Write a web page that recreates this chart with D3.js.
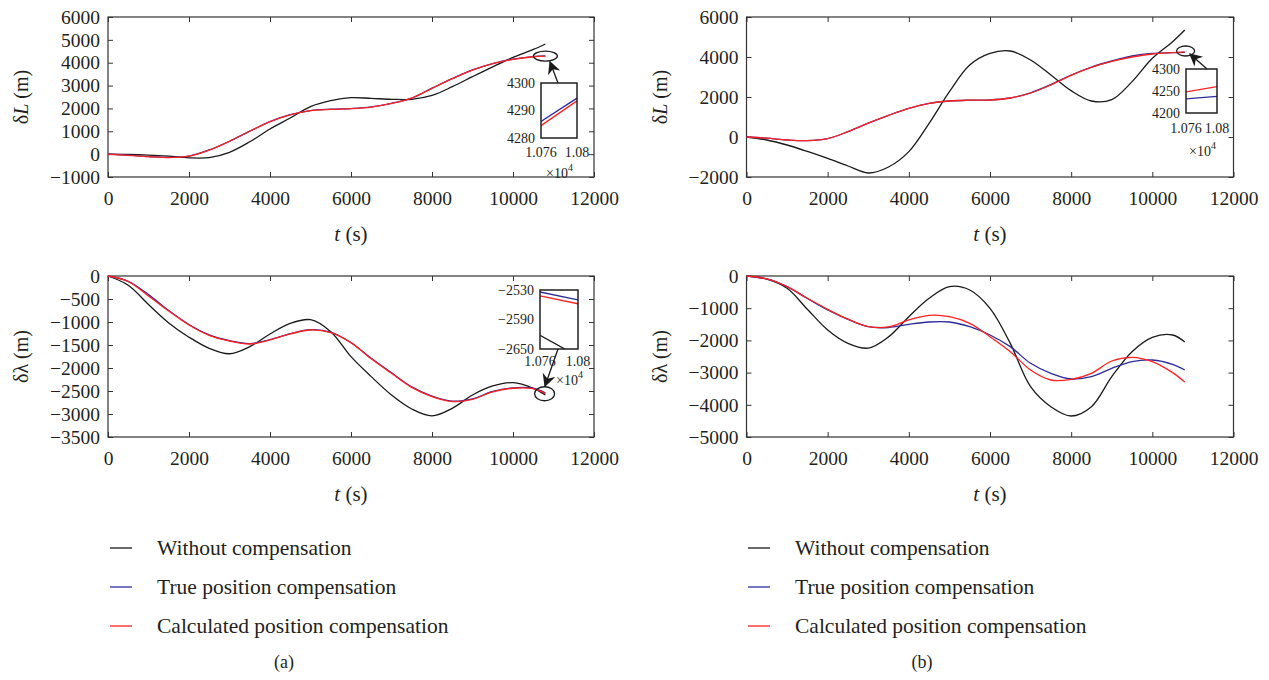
<!DOCTYPE html>
<html>
<head>
<meta charset="utf-8">
<script src="https://cdn.jsdelivr.net/npm/d3@7"></script>
<style>
  body { margin: 0; background: #fff; }
  text { font-family: "Liberation Serif", "DejaVu Serif", serif; fill: #231f20; }
</style>
</head>
<body>
<svg id="chart" width="1269" height="680"></svg>
<script>
// time grid (s), shared by all series
const times = [0, 500, 1000, 1500, 2000, 2500, 3000, 3500, 4000, 4500, 5000, 5500,
  6000, 6500, 7000, 7500, 8000, 8500, 9000, 9500, 10000, 10500, 10800];

// (a) delta L
const aL_without = [0, -10, -40, -90, -160, -150, 80, 540, 1100, 1580, 2080, 2340,
  2470, 2440, 2400, 2400, 2570, 2950, 3390, 3820, 4230, 4580, 4820];
const aL_true = [0, -45, -105, -145, -85, 185, 565, 1005, 1425, 1725, 1905, 1965,
  1995, 2065, 2225, 2455, 2885, 3305, 3685, 3965, 4155, 4265, 4295];
const aL_calc = [0, -50, -110, -150, -90, 180, 560, 1000, 1420, 1720, 1900, 1960,
  1990, 2060, 2220, 2450, 2880, 3300, 3680, 3960, 4150, 4260, 4290];

// (b) delta L
const bL_without = [0, -150, -400, -720, -1070, -1450, -1800, -1500, -733, 683, 2267, 3600,
  4183, 4300, 3850, 3100, 2317, 1800, 1867, 2767, 3933, 4767, 5350];
const bL_true = [0, -60, -150, -183, -80, 270, 690, 1080, 1430, 1680, 1800, 1840,
  1850, 1950, 2210, 2620, 3100, 3500, 3800, 4050, 4180, 4215, 4235];
const bL_calc = [0, -60, -150, -183, -80, 270, 690, 1080, 1430, 1680, 1800, 1840,
  1850, 1950, 2200, 2600, 3080, 3480, 3780, 4000, 4150, 4220, 4255];

// (a) delta lambda
const al_without = [0, -200, -620, -1020, -1330, -1572, -1690, -1536, -1260, -1030, -950, -1210,
  -1754, -2188, -2587, -2891, -3040, -2877, -2587, -2391, -2320, -2442, -2587];
const al_true = [0, -115, -405, -750, -1055, -1280, -1405, -1470, -1385, -1255, -1165, -1220,
  -1450, -1790, -2105, -2410, -2610, -2720, -2670, -2510, -2430, -2440, -2545];
const al_calc = [0, -120, -435, -760, -1065, -1290, -1413, -1478, -1390, -1260, -1174, -1230,
  -1449, -1800, -2115, -2420, -2620, -2730, -2681, -2520, -2440, -2450, -2555];

// (b) delta lambda
const bl_without = [0, -100, -383, -1035, -1677, -2091, -2240, -1890, -1263, -694, -331, -435,
  -1004, -2091, -3437, -4058, -4348, -4058, -3126, -2350, -1905, -1832, -2050];
const bl_true = [0, -90, -331, -700, -1056, -1350, -1574, -1600, -1501, -1429, -1429, -1574,
  -1832, -2194, -2712, -3023, -3199, -3126, -2867, -2660, -2609, -2743, -2919];
const bl_calc = [0, -90, -331, -690, -1035, -1340, -1574, -1580, -1366, -1222, -1263, -1470,
  -1884, -2350, -2919, -3230, -3209, -3023, -2640, -2526, -2660, -3002, -3292];

// zoomed insets (x in 10^4 s)
const insetT = [1.076, 1.08];
const aL_inset = { true: [4286, 4294.5], calc: [4284.5, 4293.5] };
const bL_inset = { true: [4232, 4238], calc: [4248, 4260] };
const al_inset = { without: [-2622, -2665], true: [-2534, -2550], calc: [-2542, -2558] };

const seriesNames = ["Without compensation", "True position compensation", "Calculated position compensation"];
const colors = { without: "#1a1a1a", true: "#2e2a9c", calc: "#ff2020" };

const svg = d3.select("#chart");

const panels = [
  { x0: 108, x1: 594, y0: 17, y1: 177, ydom: [-1000, 6000], ystep: 1000, ylab: "L", lab: "δ",
    data: { without: aL_without, true: aL_true, calc: aL_calc },
    inset: { box: [541, 577, 83, 138], ydom: [4280, 4300], yticks: [4300, 4290, 4280], vals: aL_inset,
      ell: [10800, 4290, 12, 5], arrow: [[558, 83], [550, 62]], xlabY: 157, expY: 178, expX: 546 } },
  { x0: 746.5, x1: 1233.5, y0: 17, y1: 177, ydom: [-2000, 6000], ystep: 2000, ylab: "L", lab: "δ",
    data: { without: bL_without, true: bL_true, calc: bL_calc },
    inset: { box: [1186, 1217, 69, 113], ydom: [4200, 4300], yticks: [4300, 4250, 4200], vals: bL_inset,
      ell: [10820, 4300, 9, 5], arrow: [[1207, 69], [1190, 54]], xlabY: 133, expY: 156, expX: 1189 } },
  { x0: 108, x1: 594, y0: 276, y1: 437, ydom: [-3500, 0], ystep: 500, ylab: "λ", lab: "δ",
    data: { without: al_without, true: al_true, calc: al_calc },
    inset: { box: [540, 578, 290, 349], ydom: [-2650, -2530], yticks: [-2530, -2590, -2650], vals: al_inset,
      ell: [10780, -2560, 10, 7], arrow: [[558, 349], [545, 386]], xlabY: 366, expY: 385, expX: 556 } },
  { x0: 746.5, x1: 1233.5, y0: 276, y1: 437, ydom: [-5000, 0], ystep: 1000, ylab: "λ", lab: "δ",
    data: { without: bl_without, true: bl_true, calc: bl_calc } }
];

svg.append("defs").append("marker")
  .attr("id", "head").attr("viewBox", "0 0 10 10")
  .attr("refX", 9).attr("refY", 5)
  .attr("markerWidth", 16).attr("markerHeight", 13)
  .attr("markerUnits", "userSpaceOnUse")
  .attr("orient", "auto")
  .append("path").attr("d", "M0,0 L10,5 L0,10 L3,5 Z").attr("fill", "#1a1a1a");

const fmt = d3.format("d");

panels.forEach((p, pi) => {
  const x = d3.scaleLinear().domain([0, 12000]).range([p.x0, p.x1]);
  const y = d3.scaleLinear().domain(p.ydom).range([p.y1, p.y0]);
  const xt = d3.range(0, 12001, 2000);
  const yt = d3.range(p.ydom[0], p.ydom[1] + 1, p.ystep);
  const g = svg.append("g");

  const styleAxis = sel => {
    sel.select(".domain").remove();
    sel.selectAll("line").attr("stroke", "#333").attr("stroke-width", 1);
    sel.selectAll("text").style("font-family", "'Liberation Serif', serif")
      .style("font-size", "19.5px").attr("fill", "#231f20");
  };

  g.append("g").attr("transform", `translate(0,${p.y1})`)
    .call(d3.axisBottom(x).tickValues(xt).tickFormat(fmt).tickSizeInner(-5).tickSizeOuter(0).tickPadding(14))
    .call(styleAxis);
  g.append("g").attr("transform", `translate(0,${p.y0})`)
    .call(d3.axisTop(x).tickValues(xt).tickFormat("").tickSizeInner(-5).tickSizeOuter(0))
    .call(styleAxis);
  g.append("g").attr("transform", `translate(${p.x0},0)`)
    .call(d3.axisLeft(y).tickValues(yt).tickFormat(d3.format("d")).tickSizeInner(-5).tickSizeOuter(0).tickPadding(8))
    .call(styleAxis);
  g.append("g").attr("transform", `translate(${p.x1},0)`)
    .call(d3.axisRight(y).tickValues(yt).tickFormat("").tickSizeInner(-5).tickSizeOuter(0))
    .call(styleAxis);

  g.append("rect")
    .attr("x", p.x0).attr("y", p.y0)
    .attr("width", p.x1 - p.x0).attr("height", p.y1 - p.y0)
    .attr("fill", "none").attr("stroke", "#333").attr("stroke-width", 1.2);

  const line = d3.line()
    .x((d, i) => x(times[i]))
    .y(d => y(d))
    .curve(d3.curveCatmullRom.alpha(0.5));

  ["without", "true", "calc"].forEach(k => {
    g.append("path")
      .datum(p.data[k])
      .attr("d", line)
      .attr("fill", "none")
      .attr("stroke", colors[k])
      .attr("stroke-width", 1.3);
  });

  // axis titles
  const xc = (p.x0 + p.x1) / 2;
  const xl = g.append("text")
    .attr("x", xc).attr("y", p.y1 + 64)
    .attr("text-anchor", "middle").style("font-size", "21px");
  xl.append("tspan").attr("font-style", "italic").text("t");
  xl.append("tspan").text(" (s)");

  const yc = (p.y0 + p.y1) / 2;
  const yl = g.append("text")
    .attr("transform", `translate(${p.x0 - 80},${yc}) rotate(-90)`)
    .attr("text-anchor", "middle").style("font-size", "20px");
  yl.append("tspan").text(p.lab);
  yl.append("tspan").attr("font-style", p.ylab === "L" ? "italic" : "normal").text(p.ylab);
  yl.append("tspan").text(" (m)");

  // inset
  if (p.inset) {
    const s = p.inset;
    const [bx0, bx1, by0, by1] = s.box;
    const ix = d3.scaleLinear().domain([1.076, 1.08]).range([bx0, bx1]);
    const iy = d3.scaleLinear().domain(s.ydom).range([by1, by0]);
    const clipId = "clip" + pi;
    g.append("clipPath").attr("id", clipId).append("rect")
      .attr("x", bx0).attr("y", by0).attr("width", bx1 - bx0).attr("height", by1 - by0);
    g.append("rect").attr("x", bx0).attr("y", by0)
      .attr("width", bx1 - bx0).attr("height", by1 - by0)
      .attr("fill", "#fff").attr("stroke", "none");
    const il = d3.line().x((d, i) => ix(insetT[i])).y(d => iy(d));
    Object.keys(s.vals).forEach(k => {
      g.append("path").datum(s.vals[k]).attr("d", il)
        .attr("clip-path", `url(#${clipId})`)
        .attr("fill", "none").attr("stroke", colors[k]).attr("stroke-width", 1.3);
    });
    g.append("rect").attr("x", bx0).attr("y", by0)
      .attr("width", bx1 - bx0).attr("height", by1 - by0)
      .attr("fill", "none").attr("stroke", "#231f20").attr("stroke-width", 1.5);

    g.selectAll(null).data(s.yticks).enter().append("text")
      .attr("x", bx0 - 6).attr("y", d => iy(d)).attr("dy", "0.35em")
      .attr("text-anchor", "end").style("font-size", "14px")
      .text(d => d3.format("d")(d));
    g.selectAll(null).data(insetT).enter().append("text")
      .attr("x", d => ix(d)).attr("y", s.xlabY)
      .attr("text-anchor", "middle").style("font-size", "14px")
      .text(d => d === 1.08 ? "1.08" : "1.076");
    const ex = g.append("text").attr("x", s.expX).attr("y", s.expY).style("font-size", "14px");
    ex.append("tspan").text("×10");
    ex.append("tspan").attr("dy", -7).style("font-size", "10px").text("4");

    // ellipse marking the zoomed region
    g.append("ellipse")
      .attr("cx", x(s.ell[0])).attr("cy", y(s.ell[1]))
      .attr("rx", s.ell[2]).attr("ry", s.ell[3])
      .attr("fill", "none").attr("stroke", "#1a1a1a").attr("stroke-width", 1.3);
    g.append("line")
      .attr("x1", s.arrow[0][0]).attr("y1", s.arrow[0][1])
      .attr("x2", s.arrow[1][0]).attr("y2", s.arrow[1][1])
      .attr("stroke", "#1a1a1a").attr("stroke-width", 1.3)
      .attr("marker-end", "url(#head)");
  }
});

// legends
const legendRows = [548, 587, 626];
const legendKeys = ["without", "true", "calc"];
[{ lx: 110, tx: 157 }, { lx: 748, tx: 795 }].forEach(L => {
  const lg = svg.append("g");
  legendKeys.forEach((k, i) => {
    lg.append("line").attr("x1", L.lx).attr("x2", L.lx + 22)
      .attr("y1", legendRows[i]).attr("y2", legendRows[i])
      .attr("stroke", colors[k]).attr("stroke-width", 1.3);
    lg.append("text").attr("x", L.tx).attr("y", legendRows[i]).attr("dy", "0.33em")
      .style("font-size", "21.5px").text(seriesNames[i]);
  });
});

svg.append("text").attr("x", 284).attr("y", 668).attr("text-anchor", "middle")
  .style("font-size", "18px").text("(a)");
svg.append("text").attr("x", 922).attr("y", 668).attr("text-anchor", "middle")
  .style("font-size", "18px").text("(b)");
</script>
</body>
</html>
